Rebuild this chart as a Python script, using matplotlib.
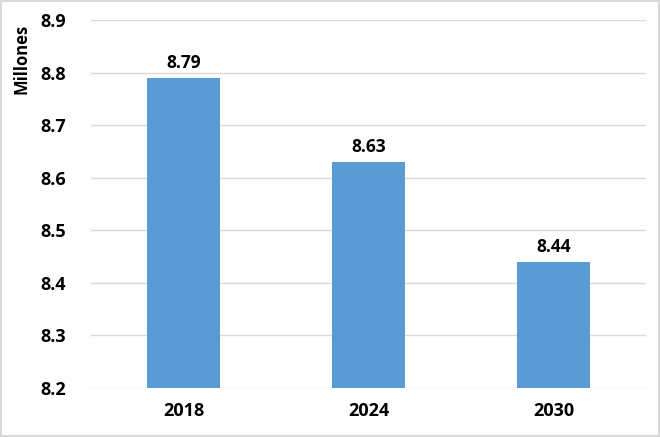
import matplotlib
matplotlib.use('Agg')
import matplotlib.pyplot as plt

YEARS  = ['2018', '2024', '2030']
VALUES = [8.79, 8.63, 8.44]
YTICKS = [8.2, 8.3, 8.4, 8.5, 8.6, 8.7, 8.8, 8.9]
BAR_COLOR = '#5B9BD5'

plt.rcParams['font.family'] = ['Open Sans', 'DejaVu Sans']

fig = plt.figure(figsize=(6.6, 4.37), dpi=100)
ax = fig.add_axes([0.138, 0.112, 0.841, 0.842])

x = range(len(YEARS))
bars = ax.bar(x, VALUES, width=0.395, color=BAR_COLOR, zorder=3)
for b, v in zip(bars, VALUES):
    ax.text(b.get_x() + b.get_width() / 2, v + 0.012, f'{v:.2f}',
            ha='center', va='bottom', fontsize=12.5, fontweight='bold')

ax.set_xlim(-0.5, len(YEARS) - 0.5)
ax.set_ylim(8.2, 8.9)
ax.set_yticks(YTICKS)
ax.set_yticklabels([f'{t:.1f}' for t in YTICKS], fontsize=13, fontweight='bold')
ax.set_xticks(list(x))
ax.set_xticklabels(YEARS, fontsize=13, fontweight='bold')
ax.tick_params(length=0, pad=10)
ax.tick_params(axis='y', pad=18)
ax.grid(axis='y', color='#d9d9d9', linewidth=1, zorder=0)
for s in ax.spines.values():
    s.set_visible(False)

fig.text(22 / 660, 1 - 59 / 437, 'Millones', rotation=90, ha='center',
         va='center', fontsize=12, fontweight='bold')

# light frame around the whole chart
fig.patches.append(plt.Rectangle((0.002, 0.003), 0.996, 0.994, transform=fig.transFigure,
                                 fill=False, edgecolor='#d9d9d9', linewidth=1.5))

fig.savefig('out.png', dpi=100)
